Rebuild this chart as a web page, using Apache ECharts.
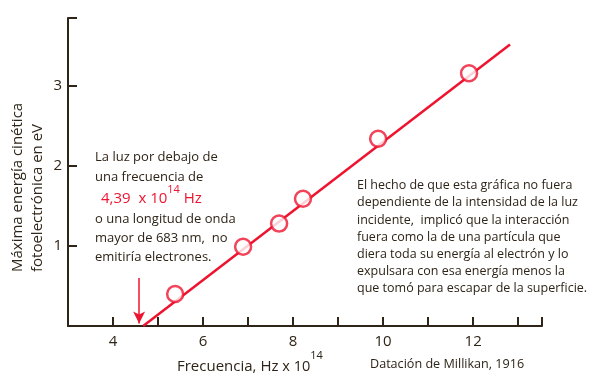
<!DOCTYPE html>
<html><head><meta charset="utf-8">
<script src="https://cdn.jsdelivr.net/npm/echarts@6/dist/echarts.min.js"></script>
<style>html,body{margin:0;padding:0;background:#fff}#c{width:598px;height:384px}</style>
</head><body><div id="c"></div>
<script>
var freq = [5.38, 6.89, 7.69, 8.22, 9.89, 11.91];
var energy = [0.40, 0.99, 1.28, 1.59, 2.34, 3.16];
var fitX = [4.67, 12.82];
var fitY = [0.0, 3.52];
var threshold = 4.58;
var xTickLabels = [4, 6, 8, 10, 12];
var yTickLabels = [1, 2, 3];

var dark = '#2e2418';
var red = '#ee1430';
var font = '"Open Sans", "Liberation Sans", sans-serif';

var chart = echarts.init(document.getElementById('c'));
chart.setOption({
  animation: false,
  grid: {left: 68, right: 56, top: 18, bottom: 58},
  xAxis: {
    type: 'value', min: 3, max: 13.53, interval: 1,
    axisLine: {lineStyle: {color: dark, width: 2}},
    axisTick: {inside: true, length: 9, lineStyle: {color: dark, width: 2}},
    axisLabel: {color: dark, fontSize: 15, fontFamily: font, margin: 8,
      formatter: function (v) { return xTickLabels.indexOf(v) >= 0 ? String(v) : ''; }},
    splitLine: {show: false}
  },
  yAxis: {
    type: 'value', min: 0, max: 3.85, interval: 1,
    axisLine: {show: true, lineStyle: {color: dark, width: 2}},
    axisTick: {show: true, inside: true, length: 9, lineStyle: {color: dark, width: 2}},
    axisLabel: {color: dark, fontSize: 15, fontFamily: font, margin: 6,
      formatter: function (v) { return yTickLabels.indexOf(v) >= 0 ? String(v) : ''; }},
    splitLine: {show: false}
  },
  series: [
    {type: 'line', data: fitX.map(function (x, i) { return [x, fitY[i]]; }),
     symbol: 'none', lineStyle: {color: red, width: 2.5}, z: 2,
     markLine: {silent: true, symbol: ['none', 'arrow'], symbolSize: [9, 12],
       label: {show: false}, lineStyle: {color: red, width: 1.5, type: 'solid'},
       data: [[{coord: [threshold, 0.6]}, {coord: [threshold, 0.03]}]]}},
    {type: 'scatter', data: freq.map(function (x, i) { return [x, energy[i]]; }),
     symbol: 'circle', symbolSize: 16, z: 3,
     itemStyle: {color: '#fff', borderColor: red, borderWidth: 2.5}}
  ],
  graphic: [
    {type: 'text', left: 95, top: 147, style: {text: 'La luz por debajo de\nuna frecuencia de', fill: dark, font: '13px ' + font, lineHeight: 20}},
    {type: 'text', left: 101, top: 184, style: {text: '{a|4,39  x 10}{s|14}{a| Hz}', rich: {
      a: {fill: red, fontSize: 15, fontFamily: font, verticalAlign: 'bottom', lineHeight: 22},
      s: {fill: red, fontSize: 11, fontFamily: font, verticalAlign: 'top', lineHeight: 22}}}},
    {type: 'text', left: 95, top: 210, style: {text: 'o una longitud de onda\nmayor de 683 nm,  no\nemitiría electrones.', fill: dark, font: '13px ' + font, lineHeight: 19}},
    {type: 'text', left: 357, top: 177, style: {text: 'El hecho de que esta gráfica no fuera\ndependiente de la intensidad de la luz\nincidente,  implicó que la interacción\nfuera como la de una partícula que\ndiera toda su energía al electrón y lo\nexpulsara con esa energía menos la\nque tomó para escapar de la superficie.', fill: dark, font: '12.5px ' + font, lineHeight: 17.2}},
    {type: 'text', left: 370, top: 358, style: {text: 'Datación de Millikan, 1916', fill: dark, font: '12.6px ' + font}},
    {type: 'text', left: 177, top: 350, style: {text: '{a|Frecuencia, Hz }{b|x 10}{s|14}', rich: {
      a: {fill: dark, fontSize: 15, fontFamily: font, verticalAlign: 'bottom', lineHeight: 24},
      b: {fill: dark, fontSize: 14.5, fontFamily: font, verticalAlign: 'bottom', lineHeight: 24},
      s: {fill: dark, fontSize: 11, fontFamily: font, verticalAlign: 'top', lineHeight: 24}}}},
    {type: 'text', x: 18, y: 272, rotation: Math.PI / 2, style: {text: 'Máxima energía cinética', fill: dark, font: '15px ' + font, align: 'left', verticalAlign: 'middle'}},
    {type: 'text', x: 38, y: 272, rotation: Math.PI / 2, style: {text: 'fotoelectrónica en eV', fill: dark, font: '15px ' + font, align: 'left', verticalAlign: 'middle'}}
  ]
});
</script></body></html>
